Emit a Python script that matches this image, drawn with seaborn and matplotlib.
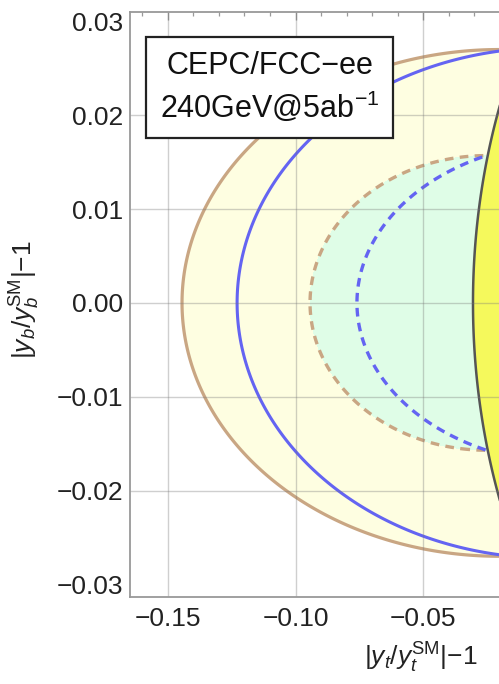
import numpy as np
import matplotlib
matplotlib.use("Agg")
import matplotlib.pyplot as plt
import seaborn as sns
from matplotlib.ticker import FixedLocator, MultipleLocator, FuncFormatter

# ---- data: each region is an elliptical Delta-chi2 = 1 contour
region_names = ["outer_solid_tan", "blue_solid", "inner_dashed_tan", "blue_dashed", "yellow"]
center_x = [-0.020, 0.000, -0.025, 0.010, 0.1356]
center_y = [0.000, 0.000, 0.000, 0.000, 0.000]
semi_x = [0.1245, 0.1229, 0.0693, 0.0859, 0.166]
semi_y = [0.0270, 0.0272, 0.0157, 0.0172, 0.060]

x_ticks = [-0.15, -0.10, -0.05]
y_ticks = [-0.03, -0.02, -0.01, 0.00, 0.01, 0.02, 0.03]
x_grid = [-0.15, -0.10, -0.05]
y_grid = [-0.02, -0.01, 0.00, 0.01, 0.02]
x_range = [-0.1649, -0.0202]
y_range = [-0.03134, 0.0310]

box_text = "CEPC/FCC\u2212ee\n240GeV@5ab$^{\\mathdefault{-1}}$"
x_label = "$|y_t/y_t^{\\mathrm{SM}}|$\u22121"
y_label = "$|y_b/y_b^{\\mathrm{SM}}|$\u22121"

sns.set_style("white")
plt.rcParams["font.family"] = ["Liberation Sans", "DejaVu Sans"]
plt.rcParams["mathtext.fontset"] = "custom"
plt.rcParams["mathtext.rm"] = "Liberation Sans"
plt.rcParams["mathtext.it"] = "Liberation Sans:italic"
plt.rcParams["mathtext.bf"] = "Liberation Sans:bold"

fig = plt.figure(figsize=(4.99, 6.84), dpi=100)
ax = fig.add_axes([130 / 499, 87 / 684, 369 / 499, 585 / 684])

gx = np.linspace(-0.20, 0.05, 900)
gy = np.linspace(-0.04, 0.04, 900)
X, Y = np.meshgrid(gx, gy)

def chi2(i):
    return ((X - center_x[i]) / semi_x[i]) ** 2 + ((Y - center_y[i]) / semi_y[i]) ** 2

tan = "#c9a683"
blue = "#6464f2"

# outer region (light yellow) with solid tan border
ax.contourf(X, Y, chi2(0), levels=[0, 1], colors=["#fefee1"], zorder=1)
ax.contour(X, Y, chi2(0), levels=[1], colors=[tan], linewidths=2.3, zorder=3)
# inner region (light green) with dashed tan border
ax.contourf(X, Y, chi2(2), levels=[0, 1], colors=["#dffde7"], zorder=2)
ax.contour(X, Y, chi2(2), levels=[1], colors=[tan], linewidths=2.4,
           linestyles=[(0, (2.6, 1.9))], zorder=4)
# blue lines
ax.contour(X, Y, chi2(1), levels=[1], colors=[blue], linewidths=2.2, zorder=4)
ax.contour(X, Y, chi2(3), levels=[1], colors=[blue], linewidths=2.4,
           linestyles=[(0, (2.6, 1.9))], zorder=4)
# yellow region
ax.contourf(X, Y, chi2(4), levels=[0, 1], colors=["#f5f95c"], zorder=5)
ax.contour(X, Y, chi2(4), levels=[1], colors=["#555555"], linewidths=1.8, zorder=6)

for gxv in x_grid:
    ax.axvline(gxv, color="#777777", lw=1.0, alpha=0.35, zorder=8)
for gyv in y_grid:
    ax.axhline(gyv, color="#777777", lw=1.0, alpha=0.35, zorder=8)

ax.set_xlim(*x_range)
ax.set_ylim(*y_range)
ax.xaxis.set_major_locator(FixedLocator(x_ticks))
ax.yaxis.set_major_locator(FixedLocator(y_ticks))
ax.xaxis.set_minor_locator(MultipleLocator(0.01))
ax.yaxis.set_minor_locator(MultipleLocator(0.002))
fmt = FuncFormatter(lambda v, p: f"{v:.2f}".replace("-", "\u2212") if abs(v) > 1e-9 else "0.00")
ax.xaxis.set_major_formatter(fmt)
ax.yaxis.set_major_formatter(fmt)

ax.tick_params(which="both", direction="in", color="#999999", top=True, right=False,
               labelsize=19, labelcolor="#222222")
ax.tick_params(axis="x", which="major", length=6, width=1.0, pad=7)
ax.tick_params(axis="y", which="major", length=6, width=1.0, pad=5)
ax.tick_params(which="minor", length=3, width=0.9)
for s in ["left", "bottom", "top"]:
    ax.spines[s].set_color("#999999")
    ax.spines[s].set_linewidth(1.3)
    ax.spines[s].set_zorder(12)
ax.spines["right"].set_visible(False)

ax.set_xlabel(x_label, fontsize=19, color="#222222")
ax.set_ylabel(y_label, fontsize=19, color="#222222")
ax.xaxis.set_label_coords(0.789, -0.075)
ax.yaxis.set_label_coords(-0.238, 0.508)

ax.text(0.378, 0.871, box_text, transform=ax.transAxes, ha="center", va="center",
        fontsize=22, linespacing=1.3, color="#111111", zorder=20,
        bbox=dict(boxstyle="square,pad=0.45", fc="white", ec="#222222", lw=1.6))

fig.savefig("out.png", dpi=100)
